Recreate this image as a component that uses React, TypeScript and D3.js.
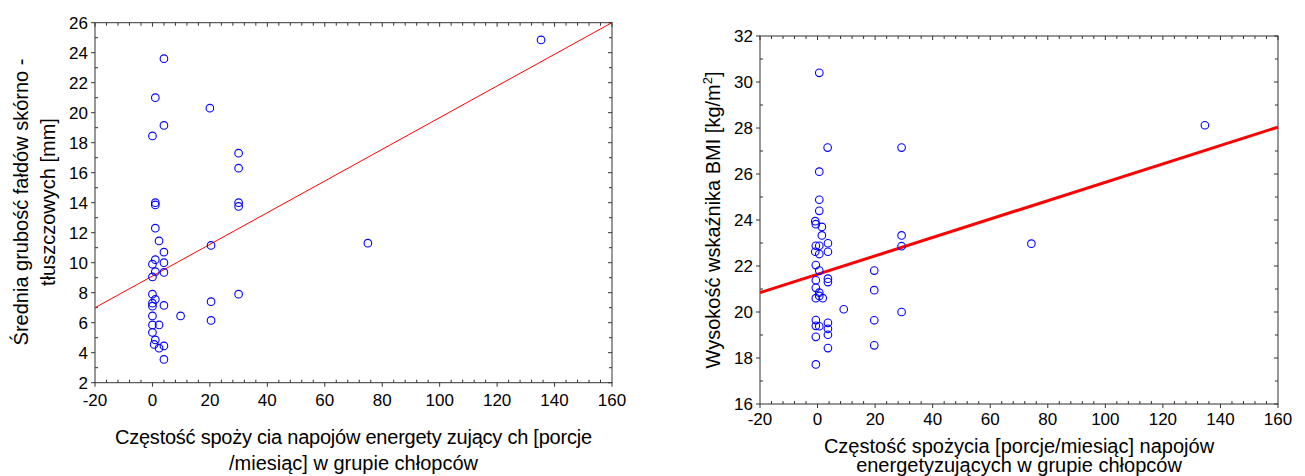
import React from 'react';
import * as d3 from 'd3';

// --- dane ---
// lewy panel: częstość spożycia (x) vs średnia grubość fałdów [mm] (y)
const skinfoldFreq = [4, 1, 20, 4, 0, 30, 30, 1, 1, 30, 30, 1, 2.3, 20.4, 4, 1, 0, 4, 1, 4, 0, 0, 30, 1, 0, 0, 4, 20.4, 0, 9.8, 20.4, 0, 2.3, 0, 1, 0.6, 2.3, 4, 4, 75, 135.3];
const skinfoldMm = [23.6, 21.0, 20.3, 19.15, 18.45, 17.3, 16.3, 14.0, 13.85, 14.0, 13.75, 12.3, 11.45, 11.15, 10.7, 10.2, 9.9, 10.0, 9.4, 9.35, 9.05, 7.9, 7.9, 7.55, 7.3, 7.1, 7.15, 7.4, 6.45, 6.45, 6.15, 5.85, 5.85, 5.35, 4.85, 4.55, 4.3, 4.45, 3.55, 11.3, 24.85];
const skinfoldFit = [9.11, 0.1056]; // [wyraz wolny, nachylenie]

// prawy panel: częstość spożycia (x) vs BMI (y)
const bmiFreq = [0.6, 3.5, 29.2, 0.6, 0.6, 0.6, -0.8, -0.6, 1.5, 1.5, 29.2, -0.6, 0.6, 3.6, -0.8, 0.6, 3.6, -0.6, 0.6, 19.7, 3.6, 3.6, -0.6, -0.6, 0.6, -0.6, 0.6, 1.8, 19.7, 9.1, 29.2, -0.6, -0.6, 0.6, 3.6, 3.6, 3.6, 19.7, -0.6, 3.6, 19.7, -0.6, 29.2, 74.3, 134.6];
const bmiValue = [30.4, 27.15, 27.15, 26.1, 24.88, 24.4, 23.95, 23.82, 23.7, 23.33, 23.33, 22.88, 22.88, 22.99, 22.62, 22.52, 22.62, 22.04, 21.8, 21.8, 21.45, 21.3, 21.38, 21.05, 20.84, 20.6, 20.7, 20.6, 20.95, 20.12, 20.0, 19.65, 19.4, 19.38, 19.53, 19.27, 19.01, 19.64, 18.92, 18.43, 18.55, 17.72, 22.86, 22.97, 28.12];
const bmiFit = [21.64, 0.04];

const xTicks = [-20, 0, 20, 40, 60, 80, 100, 120, 140, 160];
const skinfoldTicks = [2, 4, 6, 8, 10, 12, 14, 16, 18, 20, 22, 24, 26];
const bmiTicks = [16, 18, 20, 22, 24, 26, 28, 30, 32];

const FONT = '"Liberation Sans", Arial, sans-serif';

interface PanelProps {
  left: number;
  top: number;
  width: number;
  height: number;
  xs: number[];
  ys: number[];
  fit: number[];
  fitWidth: number;
  yTicks: number[];
  xLabelY: number;
  yTitle: React.ReactNode[];
  yTitleX: number[];
  yTitleCenter: number;
  xTitle: string[];
  xTitleY: number[];
  xTitleLen?: (number | undefined)[];
}

const Panel: React.FC<PanelProps> = (p) => {
  const x = d3.scaleLinear().domain([xTicks[0], xTicks[xTicks.length - 1]]).range([p.left, p.left + p.width]);
  const y = d3.scaleLinear().domain([p.yTicks[0], p.yTicks[p.yTicks.length - 1]]).range([p.top + p.height, p.top]);
  const bottom = p.top + p.height;
  const right = p.left + p.width;

  // drobne podziałki: co 4 jednostki na osi X, co 1 na osi Y
  const xMinor = d3.range(xTicks[0], xTicks[xTicks.length - 1] + 0.01, 4).filter(v => !xTicks.includes(v));
  const yMinor = d3.range(p.yTicks[0], p.yTicks[p.yTicks.length - 1] + 0.01, 1).filter(v => !p.yTicks.includes(v));

  const [x0, x1] = x.domain();
  const line = d3.line<number>().x(v => x(v)).y(v => y(p.fit[0] + p.fit[1] * v));

  return (
    <g>
      <defs>
        <clipPath id={`clip-${p.left}`}>
          <rect x={p.left} y={p.top} width={p.width} height={p.height} />
        </clipPath>
      </defs>
      {/* podziałki */}
      <g stroke="#333" strokeWidth={1}>
        {xTicks.map(v => (
          <g key={'xt' + v}>
            <line x1={x(v)} x2={x(v)} y1={bottom} y2={bottom + 4} />
            <line x1={x(v)} x2={x(v)} y1={p.top} y2={p.top + 4} />
          </g>
        ))}
        {xMinor.map(v => (
          <g key={'xm' + v}>
            <line x1={x(v)} x2={x(v)} y1={bottom} y2={bottom - 3} />
            <line x1={x(v)} x2={x(v)} y1={p.top} y2={p.top + 3} />
          </g>
        ))}
        {p.yTicks.map(v => (
          <g key={'yt' + v}>
            <line x1={p.left - 4} x2={p.left} y1={y(v)} y2={y(v)} />
            <line x1={right - 4} x2={right} y1={y(v)} y2={y(v)} />
          </g>
        ))}
        {yMinor.map(v => (
          <g key={'ym' + v}>
            <line x1={p.left} x2={p.left + 3} y1={y(v)} y2={y(v)} />
            <line x1={right - 3} x2={right} y1={y(v)} y2={y(v)} />
          </g>
        ))}
      </g>
      <rect x={p.left} y={p.top} width={p.width} height={p.height} fill="none" stroke="#333" strokeWidth={1} />

      {/* etykiety podziałek */}
      <g fontFamily={FONT} fontSize={17} fill="#000">
        {xTicks.map(v => (
          <text key={'xl' + v} x={x(v)} y={p.xLabelY} textAnchor="middle">{String(v)}</text>
        ))}
        {p.yTicks.map(v => (
          <text key={'yl' + v} x={p.left - 7} y={y(v)} dy="0.36em" textAnchor="end">{String(v)}</text>
        ))}
      </g>

      {/* tytuły osi */}
      <g fontFamily={FONT} fontSize={20} fill="#000">
        {p.xTitle.map((t, i) => {
          const len = p.xTitleLen ? p.xTitleLen[i] : undefined;
          return (
            <text key={'xtt' + i} x={p.left + p.width / 2} y={p.xTitleY[i]} textAnchor="middle"
              {...(len ? { textLength: len, lengthAdjust: 'spacing' } : {})}>{t}</text>
          );
        })}
        {p.yTitle.map((t, i) => (
          <text key={'ytt' + i} transform={`translate(${p.yTitleX[i]},${p.yTitleCenter}) rotate(-90)`} textAnchor="middle">{t}</text>
        ))}
      </g>

      {/* linia regresji */}
      <path d={line([x0, x1]) || ''} fill="none" stroke="#ff0000" strokeWidth={p.fitWidth} clipPath={`url(#clip-${p.left})`} />

      {/* punkty */}
      <g fill="none" stroke="#0000ff" strokeWidth={1.1}>
        {p.xs.map((v, i) => (
          <circle key={'pt' + i} cx={x(v)} cy={y(p.ys[i])} r={3.8} />
        ))}
      </g>
    </g>
  );
};

export default function App() {
  return (
    <svg width={1305} height={476} style={{ position: 'absolute', left: 0, top: 0, display: 'block', background: '#fff' }}>
      <rect width={1305} height={476} fill="#fff" />
      <Panel
        left={95}
        top={22.7}
        width={517}
        height={360}
        xs={skinfoldFreq}
        ys={skinfoldMm}
        fit={skinfoldFit}
        fitWidth={1}
        yTicks={skinfoldTicks}
        xLabelY={406}
        yTitle={['Średnia grubość fałdów skórno -', 'tłuszczowych [mm]']}
        yTitleX={[27.5, 54.5]}
        yTitleCenter={202}
        xTitle={['Częstość spoży cia napojów energety zujący ch [porcje', '/miesiąc] w grupie chłopców']}
        xTitleY={[443.5, 469.5]}
        xTitleLen={[477, undefined]}
      />
      <Panel
        left={760}
        top={36}
        width={518}
        height={368}
        xs={bmiFreq}
        ys={bmiValue}
        fit={bmiFit}
        fitWidth={3}
        yTicks={bmiTicks}
        xLabelY={425}
        yTitle={[
          <>
            Wysokość wskaźnika BMI [kg/m<tspan fontSize={13} dy={-8}>2</tspan><tspan dy={8}>]</tspan>
          </>,
        ]}
        yTitleX={[720]}
        yTitleCenter={220}
        xTitle={['Częstość spożycia [porcje/miesiąc] napojów', 'energetyzujących w grupie chłopców']}
        xTitleY={[453, 472]}
      />
    </svg>
  );
}
